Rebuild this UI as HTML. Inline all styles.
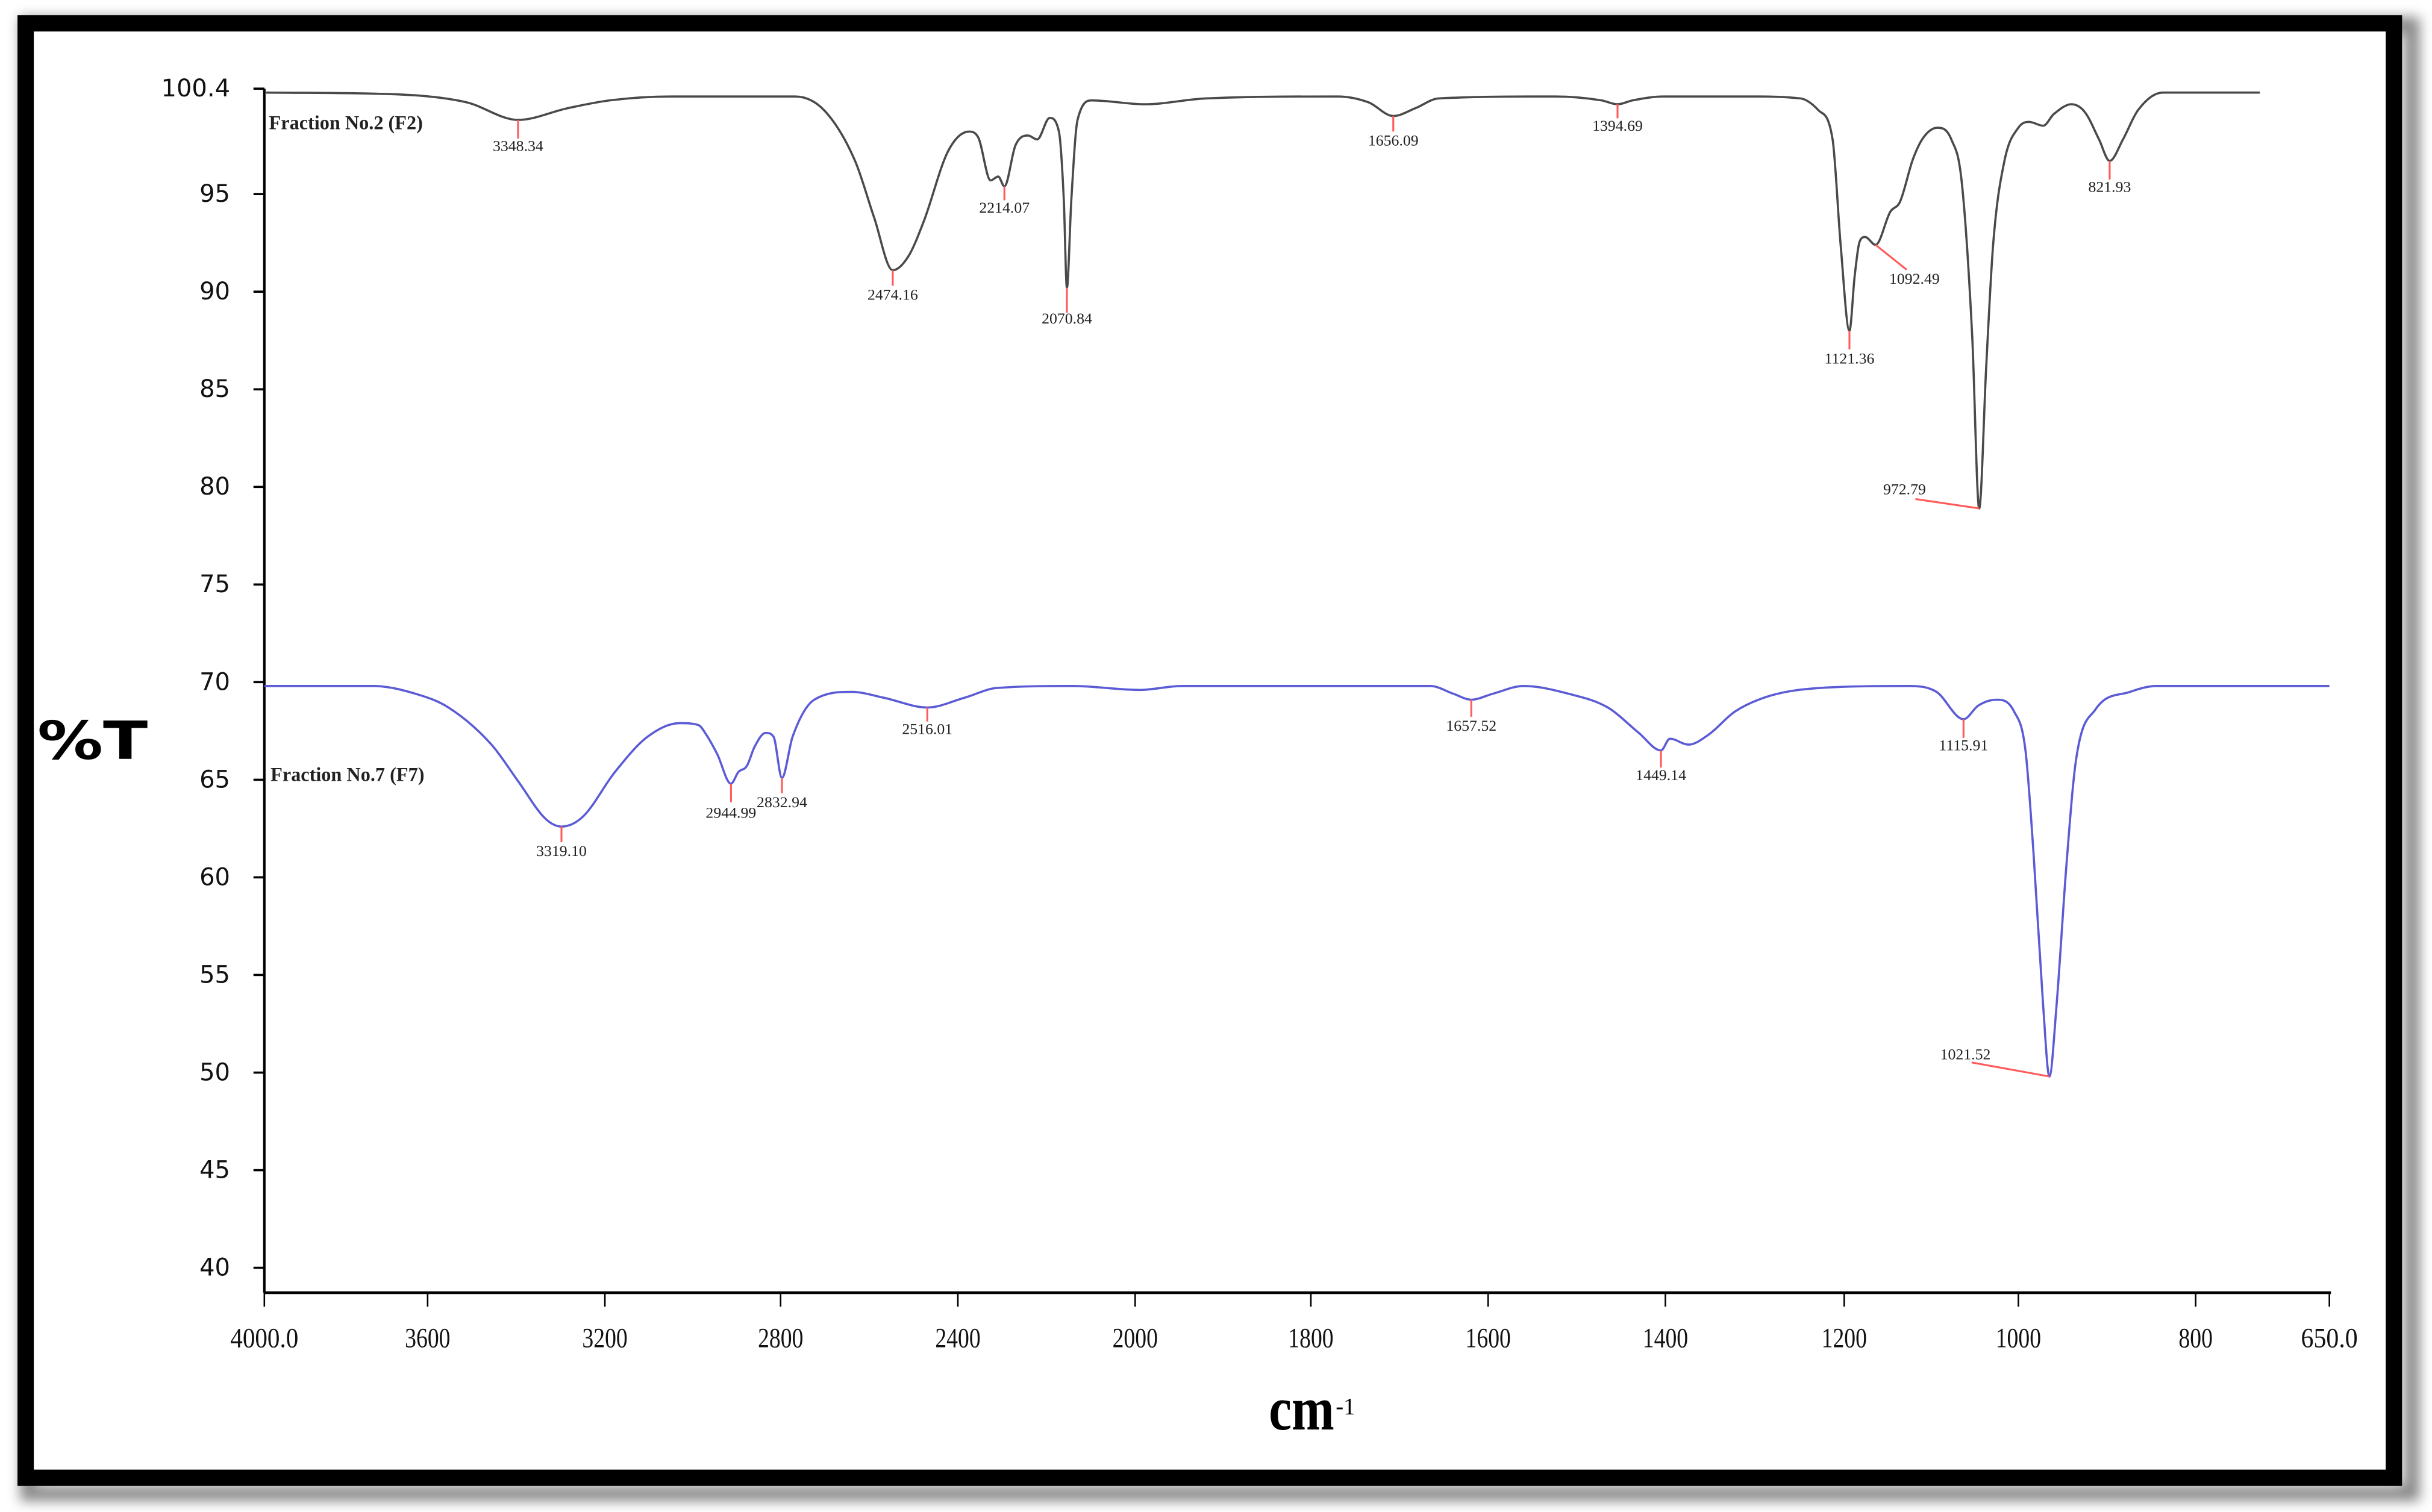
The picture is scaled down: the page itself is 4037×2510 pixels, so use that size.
<!DOCTYPE html>
<html><head><meta charset="utf-8"><style>
html,body{margin:0;padding:0;background:#fff;}
svg{display:block;}
</style></head><body>
<svg id="chart" xmlns="http://www.w3.org/2000/svg" width="4037" height="2510" viewBox="0 0 1564 972" preserveAspectRatio="none">
<defs>
<filter id="sh" x="-5%" y="-5%" width="115%" height="115%"><feGaussianBlur stdDeviation="4"/></filter>
</defs>
<rect x="18" y="16" width="1533" height="944" fill="none" stroke="#888" stroke-width="10" filter="url(#sh)"/>
<rect x="16.5" y="15" width="1523" height="935" fill="#fff" stroke="#000" stroke-width="10.5"/>
<g id="axes"></g>
<g id="series"></g>
<g id="peaks"></g>
<text x="24" y="488" font-family="DejaVu Sans, sans-serif" font-weight="bold" font-size="34" textLength="71" lengthAdjust="spacingAndGlyphs" fill="#000">%T</text>
<text x="816" y="919" font-family="Liberation Serif, serif" font-weight="bold" font-size="40" textLength="42" lengthAdjust="spacingAndGlyphs" fill="#000">cm</text>
<text x="859" y="909" font-family="Liberation Serif, serif" font-size="15" fill="#000">-1</text>
<text x="173" y="83" font-family="Liberation Serif, serif" font-weight="bold" font-size="12.5" fill="#222">Fraction No.2 (F2)</text>
<text x="174" y="502" font-family="Liberation Serif, serif" font-weight="bold" font-size="12.5" fill="#222">Fraction No.7 (F7)</text>
</svg>
<script>
// axis ticks
const xTickValues = [4000, 3600, 3200, 2800, 2400, 2000, 1800, 1600, 1400, 1200, 1000, 800, 650];
const xTickLabels = ["4000.0","3600","3200","2800","2400","2000","1800","1600","1400","1200","1000","800","650.0"];
const yTickValues = [100.4, 95, 90, 85, 80, 75, 70, 65, 60, 55, 50, 45, 40];
const yTickLabels = ["100.4","95","90","85","80","75","70","65","60","55","50","45","40"];
// F2 spectrum (wavenumber, %T)
const f2Wavenumber = [3996,3665,3512,3396,3284,3189,3048,2768,2702,2632,2589,2547,2512,2477,2422,2375,2354,2326,2309,2295,2270,2242,2221,2193,2172,2161,2154,2144,2130,2097,1989,1920,1770,1735,1707,1682,1656,1525,1472,1454,1437,1402,1309,1249,1229,1213,1204,1194,1188,1182,1176,1164,1147,1136,1121,1109,1093,1077,1065,1053,1045,1037,1029,1016,1000,988,972,960,940,925,909,897,882,865,837,813,728];
const f2Transmittance = [100.2,100.1,99.7,98.8,99.4,99.8,100.0,100.0,99.3,96.7,93.8,91.1,91.8,93.6,97.2,98.2,97.9,95.7,95.9,95.4,97.5,98.0,97.8,98.9,98.2,94.7,90.2,94.7,98.8,99.8,99.6,99.9,100.0,99.7,99.0,99.4,99.9,100.0,99.8,99.6,99.8,100.0,100.0,99.9,99.3,97.8,92.4,88.0,90.8,92.6,92.8,92.4,94.1,94.6,96.8,97.9,98.4,97.8,95.6,87.7,78.9,86.1,92.4,96.7,98.4,98.7,98.5,99.1,99.6,99.2,97.8,96.7,97.8,99.3,100.2,100.2,100.2];
// F7 spectrum (wavenumber, %T)
const f7Wavenumber = [4000,3733,3629,3553,3456,3395,3334,3298,3250,3177,3103,3030,2987,2969,2944,2913,2896,2877,2859,2834,2816,2797,2773,2724,2639,2567,2469,2385,2312,2140,1995,1947,1665,1639,1619,1595,1560,1509,1465,1430,1405,1395,1374,1352,1322,1283,1227,1125,1094,1063,1046,1025,1005,992,983,972,965,957,946,935,913,874,844,650];
const f7Transmittance = [69.8,69.8,69.4,68.7,66.8,64.9,63.0,62.6,63.1,65.4,67.2,67.9,67.8,67.3,66.3,64.8,65.4,65.7,66.7,67.4,67.2,65.1,67.2,69.1,69.5,69.2,68.7,69.2,69.7,69.8,69.6,69.8,69.8,69.4,69.1,69.4,69.8,69.4,68.7,67.4,66.5,67.1,66.8,67.3,68.5,69.3,69.7,69.8,69.5,68.1,68.8,69.1,68.5,66.5,61.3,53.4,49.8,53.4,60.5,66.0,68.6,69.5,69.8,69.8];
// peak annotations
const f2PeakLabels = ["3348.34","2474.16","2214.07","2070.84","1656.09","1394.69","1121.36","1092.49","972.79","821.93"];
const f2PeakWavenumber = [3396,2547,2295,2154,1707,1454,1194,1164,1045,897];
const f2PeakTransmittance = [98.8,91.1,95.4,90.2,99.0,99.6,88.0,92.4,78.9,96.7];
const f7PeakLabels = ["3319.10","2944.99","2832.94","2516.01","1657.52","1449.14","1115.91","1021.52"];
const f7PeakWavenumber = [3298,2913,2797,2469,1619,1405,1063,965];
const f7PeakTransmittance = [62.6,64.8,65.1,68.7,69.1,66.5,68.1,49.8];

// layout (pixel positions of axis ticks, not data)
const xTickPx = [170,275,389,502,616,730,843,957,1071,1186,1298,1412,1498];
const Y_TOP=57, Y_BOT=815, AX_LEFT=170, AX_RIGHT=1499, AX_BOTTOM=831;
// annotation styling: [lineEndDx, lineEndDy, textDx, textDy]
const f2Style = [[0,12,0,20],[0,10,0,19],[0,9,0,17],[0,16,0,23],[0,10,0,19],[0,9,0,17],[0,12,0,21],[20,16,25,25],[-41,-6,-48,-9],[0,12,0,20]];
const f7Style = [[0,10,0,19],[0,12,0,22],[0,10,0,19],[0,9,0,17],[0,11,0,20],[0,11,0,19],[0,12,0,20],[-50,-9,-54,-11]];

const NS="http://www.w3.org/2000/svg";
function X(w){
  for(let i=0;i<xTickValues.length-1;i++){
    const a=xTickValues[i], b=xTickValues[i+1];
    if(w<=a && w>=b){ return xTickPx[i]+(a-w)/(a-b)*(xTickPx[i+1]-xTickPx[i]); }
  }
  return w>xTickValues[0]?xTickPx[0]:xTickPx[xTickPx.length-1];
}
function Y(t){ return Y_TOP+(100.4-t)/(100.4-40)*(Y_BOT-Y_TOP); }
function mk(tag,attrs,parent){const e=document.createElementNS(NS,tag);for(const k in attrs)e.setAttribute(k,attrs[k]);parent.appendChild(e);return e;}

const axes=document.getElementById('axes');
let e=mk('line',{x1:AX_LEFT,y1:Y_TOP,x2:AX_LEFT,y2:AX_BOTTOM,stroke:'#000','stroke-width':1.6},axes);


e=mk('line',{x1:AX_LEFT,y1:AX_BOTTOM,x2:AX_RIGHT,y2:AX_BOTTOM,stroke:'#000','stroke-width':1.8},axes);


yTickValues.forEach((v,i)=>{
  const y=Y(v);
  let t=mk('line',{x1:AX_LEFT-7,y1:y,x2:AX_LEFT,y2:y,stroke:'#000','stroke-width':1.4},axes);
  
  
  let l=mk('text',{x:148,y:y+5,'text-anchor':'end','font-family':'DejaVu Sans, sans-serif','font-size':15.5,fill:'#111'},axes);
  l.textContent=yTickLabels[i];
  
  
});
xTickValues.forEach((v,i)=>{
  const x=X(v);
  let t=mk('line',{x1:x,y1:AX_BOTTOM,x2:x,y2:AX_BOTTOM+9,stroke:'#000','stroke-width':1},axes);
  
  
  const lab=xTickLabels[i];
  let l=mk('text',{x:x,y:866,'text-anchor':'middle','font-family':'Liberation Serif, serif','font-size':18,fill:'#111',textLength:lab.length*7.3,lengthAdjust:'spacingAndGlyphs'},axes);
  l.textContent=lab;
  
  
});

const series=document.getElementById('series');
function monotonePath(px,py){
  const n=px.length, d=[], m=new Array(n);
  for(let i=0;i<n-1;i++) d.push((py[i+1]-py[i])/((px[i+1]-px[i])||1e-6));
  m[0]=d[0]; m[n-1]=d[n-2];
  for(let i=1;i<n-1;i++){ m[i]=(d[i-1]*d[i]<=0)?0:(d[i-1]+d[i])/2; }
  for(let i=0;i<n-1;i++){
    if(d[i]===0){m[i]=0;m[i+1]=0;continue;}
    const a=m[i]/d[i], b=m[i+1]/d[i], s=a*a+b*b;
    if(s>9){const t=3/Math.sqrt(s); m[i]=t*a*d[i]; m[i+1]=t*b*d[i];}
  }
  let p='M'+px[0].toFixed(2)+' '+py[0].toFixed(2);
  for(let i=0;i<n-1;i++){
    const h=(px[i+1]-px[i])/3;
    p+='C'+(px[i]+h).toFixed(2)+' '+(py[i]+m[i]*h).toFixed(2)+' '+(px[i+1]-h).toFixed(2)+' '+(py[i+1]-m[i+1]*h).toFixed(2)+' '+px[i+1].toFixed(2)+' '+py[i+1].toFixed(2);
  }
  return p;
}
function drawSeries(ws,ts,color,name){
  const px=ws.map(X), py=ts.map(Y);
  const p=mk('path',{d:monotonePath(px,py),fill:'none',stroke:color,'stroke-width':1.4,'stroke-linejoin':'round'},series);
  
  
}
drawSeries(f2Wavenumber,f2Transmittance,'#4a4a4a','f2-spectrum-line');
drawSeries(f7Wavenumber,f7Transmittance,'#5b5bd6','f7-spectrum-line');

const peaks=document.getElementById('peaks');
function drawPeaks(labels,ws,ts,style,prefix){
  labels.forEach((lab,i)=>{
    const x=X(ws[i]), y=Y(ts[i]); const s=style[i];
    const ln=mk('line',{x1:x,y1:y,x2:x+s[0],y2:y+s[1],stroke:'#ff5a5a','stroke-width':1.2},peaks);
    
    
    const tx=mk('text',{x:x+s[2],y:y+s[3],'text-anchor':'middle','font-family':'Liberation Serif, serif','font-size':10,fill:'#222'},peaks);
    tx.textContent=lab;
    
    
  });
}
drawPeaks(f2PeakLabels,f2PeakWavenumber,f2PeakTransmittance,f2Style,'f2');
drawPeaks(f7PeakLabels,f7PeakWavenumber,f7PeakTransmittance,f7Style,'f7');
</script>
</body></html>
